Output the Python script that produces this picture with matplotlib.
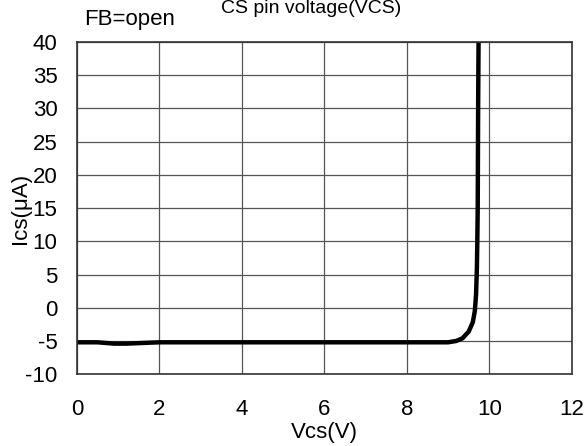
import matplotlib
matplotlib.use("Agg")
import matplotlib.pyplot as plt

vcs = [0.0, 0.5, 0.9, 1.2, 1.6, 2.0, 4.0, 6.0, 8.0, 9.0, 9.2, 9.35, 9.5, 9.6, 9.65, 9.68, 9.7, 9.71, 9.72, 9.73, 9.74]
ics = [-5.2, -5.2, -5.4, -5.4, -5.3, -5.2, -5.2, -5.2, -5.2, -5.2, -5.0, -4.6, -3.6, -2.2, -0.5, 2.0, 6.0, 10.0, 15.0, 30.0, 40.0]

xticks = [0, 2, 4, 6, 8, 10, 12]
yticks = [-10, -5, 0, 5, 10, 15, 20, 25, 30, 35, 40]

plt.rcParams["font.family"] = ["Liberation Sans", "DejaVu Sans"]
plt.rcParams["axes.unicode_minus"] = False

fig = plt.figure(figsize=(5.87, 4.46), dpi=100)
ax = fig.add_axes([0.131, 0.161, 0.843, 0.745])

ax.plot(vcs, ics, color="black", linewidth=3.2, solid_capstyle="butt")

ax.set_xlim(0, 12)
ax.set_ylim(-10, 40)
ax.set_xticks(xticks)
ax.set_yticks(yticks)
ax.tick_params(length=0, labelsize=16)
ax.tick_params(axis="x", pad=18)
ax.tick_params(axis="y", pad=14)
ax.grid(True, color="#555555", linewidth=0.9)
for s in ax.spines.values():
    s.set_linewidth(1.2)
    s.set_color("#333333")

ax.set_xlabel("Vcs(V)", fontsize=16, labelpad=1)
ax.set_ylabel("Ics(μA)", fontsize=16, labelpad=-4)

fig.text(0.53, 1 - 13 / 446, "CS pin voltage(VCS)", fontsize=14, ha="center", va="baseline")
fig.text(0.143, 1 - 25 / 446, "FB=open", fontsize=16, ha="left", va="baseline")

fig.savefig("out.png", dpi=100)
